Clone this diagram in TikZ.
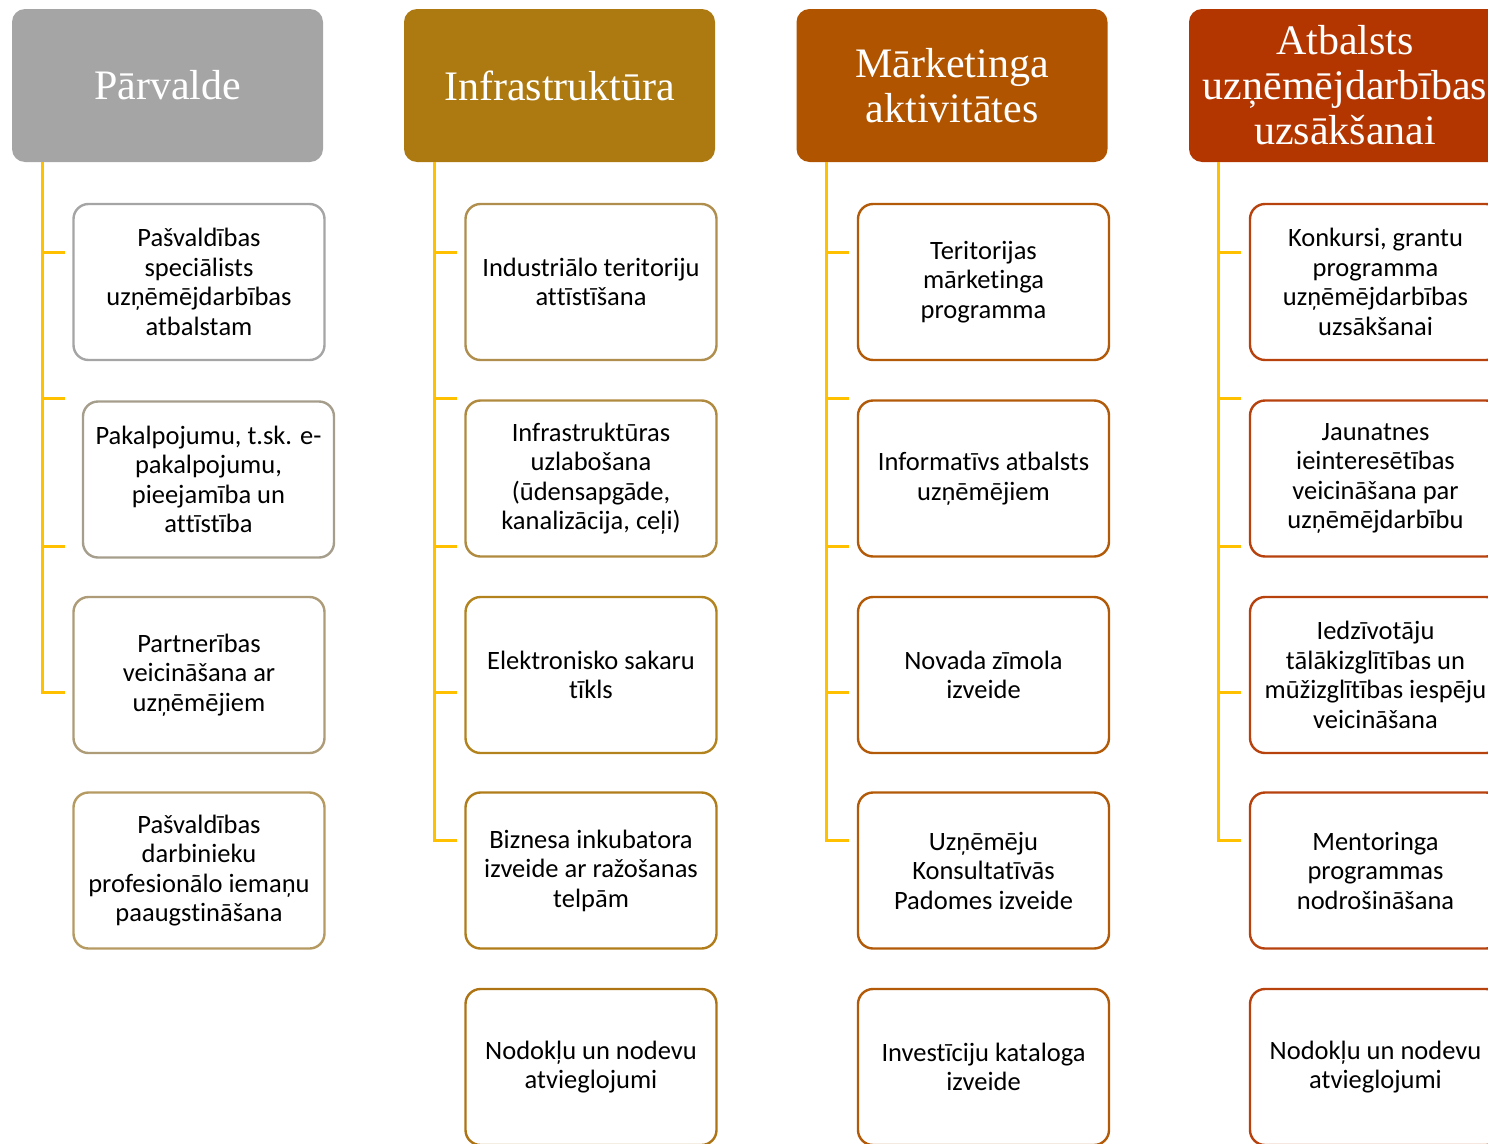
\documentclass[tikz,border=0pt]{standalone}
\usepackage{fontspec}
\setmainfont{Carlito}[RawFeature={-liga;-clig;-calt;-rlig;-dlig;-hlig}]
\newfontfamily\headfont{Liberation Serif}
\XeTeXinterchartokenstate=1
\newXeTeXintercharclass\tclass
\XeTeXcharclass`t=\tclass
\XeTeXinterchartoks\tclass 0={\kern0pt }
\XeTeXinterchartoks\tclass\tclass={\kern0pt }
\definecolor{hOne}{HTML}{A5A5A5}
\definecolor{hTwo}{HTML}{AD7A12}
\definecolor{hThree}{HTML}{B05400}
\definecolor{hFour}{HTML}{B33600}
\definecolor{conn}{HTML}{FFC000}
\definecolor{bA}{HTML}{A5A5A5}
\definecolor{bB}{HTML}{A69E8C}
\definecolor{bC}{HTML}{AD9C77}
\definecolor{bD}{HTML}{B59A62}
\definecolor{bE}{HTML}{AF8E4E}
\definecolor{bF}{HTML}{B08A3E}
\definecolor{bG}{HTML}{B3841E}
\definecolor{bH}{HTML}{B07D1A}
\definecolor{bI}{HTML}{AE7414}
\definecolor{bJ}{HTML}{B35A08}
\definecolor{bK}{HTML}{B8420E}
\tikzset{
  head/.style={rounded corners=13pt, text=white, align=center,
    minimum width=311pt, minimum height=153pt, inner sep=0pt,
    font=\headfont\fontsize{42}{45}\selectfont},
  itembox/.style={draw, line width=2.4pt, rounded corners=15pt, fill=white,
    align=center, minimum width=251pt, minimum height=156pt, inner sep=0pt,
    text=black, font=\fontsize{26.5}{29.5}\selectfont},
  connline/.style={draw=conn, line width=3pt},
}
\begin{document}
\begin{tikzpicture}[x=1pt,y=-1pt]
\useasboundingbox (0,0) rectangle (1488,1143);
\clip (0,0) rectangle (1488,1143);
% headers
\node[head, fill=hOne] (h1) at (167.5,85.5) {Pārvalde};
\node[head, fill=hTwo] (h2) at (559.5,85.5) {Infrastruktūra};
\node[head, fill=hThree] (h3) at (952,85.5) {Mārketinga\\aktivitātes};
\node[head, fill=hFour, minimum width=312pt] (h4) at (1345,85.5) {Atbalsts\\uzņēmējdarbības\\uzsākšanai};
% column 1
\node[itembox, draw=bA] (c1b1) at (199,282) {Pašvaldības\\speciālists\\uzņēmējdarbības\\atbalstam};
\node[itembox, draw=bB] (c1b2) at (208.5,479.5) {Pakalpojumu, t.sk. e-\\pakalpojumu,\\pieejamība un\\attīstība};
\node[itembox, draw=bC] (c1b3) at (199,675) {Partnerības\\veicināšana ar\\uzņēmējiem};
\node[itembox, draw=bD] (c1b4) at (199,870.5) {Pašvaldības\\darbinieku\\profesionālo iemaņu\\paaugstināšana};
% column 2
\node[itembox, draw=bE] (c2b1) at (591,282) {Industriālo teritoriju\\attīstīšana};
\node[itembox, draw=bF] (c2b2) at (591,478.5) {Infrastruktūras\\uzlabošana\\(ūdensapgāde,\\kanalizācija, ceļi)};
\node[itembox, draw=bG] (c2b3) at (591,675) {Elektronisko sakaru\\tīkls};
\node[itembox, draw=bH] (c2b4) at (591,870.5) {Biznesa inkubatora\\izveide ar ražošanas\\telpām};
\node[itembox, draw=bI] (c2b5) at (591,1067) {Nodokļu un nodevu\\atvieglojumi};
% column 3
\node[itembox, draw=bJ] (c3b1) at (983.5,282) {Teritorijas\\mārketinga\\programma};
\node[itembox, draw=bJ] (c3b2) at (983.5,478.5) {Informatīvs atbalsts\\uzņēmējiem};
\node[itembox, draw=bJ] (c3b3) at (983.5,675) {Novada zīmola\\izveide};
\node[itembox, draw=bJ] (c3b4) at (983.5,870.5) {Uzņēmēju\\Konsultatīvās\\Padomes izveide};
\node[itembox, draw=bJ] (c3b5) at (983.5,1067) {Investīciju kataloga\\izveide};
% column 4
\node[itembox, draw=bK] (c4b1) at (1375.5,282) {Konkursi, grantu\\programma\\uzņēmējdarbības\\uzsākšanai};
\node[itembox, draw=bK] (c4b2) at (1375.5,478.5) {Jaunatnes\\ieinteresētības\\veicināšana par\\uzņēmējdarbību};
\node[itembox, draw=bK] (c4b3) at (1375.5,675) {Iedzīvotāju\\tālākizglītības un\\mūžizglītības iespēju\\veicināšana};
\node[itembox, draw=bK] (c4b4) at (1375.5,870.5) {Mentoringa\\programmas\\nodrošināšana};
\node[itembox, draw=bK] (c4b5) at (1375.5,1067) {Nodokļu un nodevu\\atvieglojumi};
% connector coordinates
\coordinate (r1) at (42,162);
\coordinate (r2) at (434,162);
\coordinate (r3) at (826,162);
\coordinate (r4) at (1218,162);
\foreach \c/\x in {1/65,2/457,3/849,4/1241}{
  \coordinate (t\c a) at (\x,252);
  \coordinate (t\c b) at (\x,398);
  \coordinate (t\c c) at (\x,546);
  \coordinate (t\c d) at (\x,692);
  \coordinate (t\c e) at (\x,840);
}
% column 1 connectors
\draw[connline] (r1) |- (t1d);
\foreach \t in {a,b,c}{\draw[connline] (r1 |- t1\t) -- (t1\t);}
% columns 2-4 connectors
\foreach \c in {2,3,4}{
  \draw[connline] (r\c) |- (t\c e);
  \foreach \t in {a,b,c,d}{\draw[connline] (r\c |- t\c\t) -- (t\c\t);}
}
\end{tikzpicture}
\end{document}
